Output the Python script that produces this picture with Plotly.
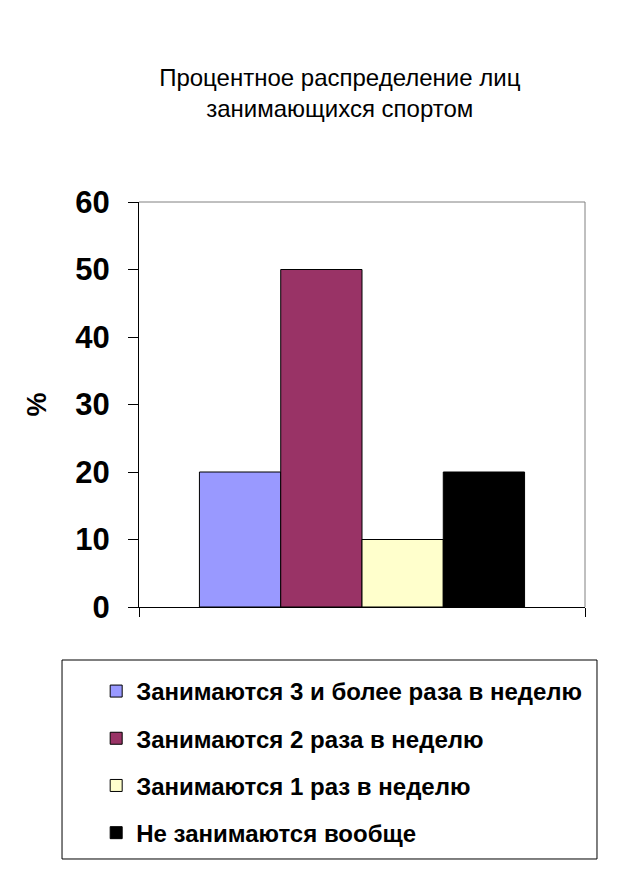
import plotly.graph_objects as go

categories = ['Занимаются 3 и более раза в неделю',
              'Занимаются 2 раза в неделю',
              'Занимаются 1 раз в неделю',
              'Не занимаются вообще']
values = [20, 50, 10, 20]
colors = ['#9999FF', '#993366', '#FFFFCC', '#000000']
y_ticks = [0, 10, 20, 30, 40, 50, 60]

fig = go.Figure()
for i, (name, val, col) in enumerate(zip(categories, values, colors)):
    fig.add_trace(go.Bar(
        x=[0], y=[val], name='<b>' + name + '</b>',
        legendgroup='g%d' % i,
        marker=dict(color=col, line=dict(color='black', width=1)),
    ))

# page has an 8px body margin, so margins are shifted by 8
fig.update_layout(
    width=626, height=884,
    margin=dict(l=131, r=49, t=194, b=285),
    paper_bgcolor='white', plot_bgcolor='white',
    font=dict(family='Arial, Liberation Sans, sans-serif', color='black'),
    title=dict(text='Процентное распределение лиц<br>занимающихся спортом',
               font=dict(size=24), x=0.530, xanchor='center',
               y=0.912, yanchor='middle', xref='container', yref='container'),
    barmode='group', bargap=0.271, bargroupgap=0,
    xaxis=dict(range=[-0.5, 0.5], tickvals=[-0.5, 0.5], showticklabels=False,
               ticks='outside', ticklen=9, tickcolor='black',
               showline=True, linecolor='black', linewidth=1,
               showgrid=False, zeroline=False, fixedrange=True),
    yaxis=dict(range=[0, 60], tickvals=y_ticks,
               ticktext=['<b>%d</b>' % v for v in y_ticks],
               ticks='outside', ticklen=10,
               tickcolor='black', showline=True, linecolor='black', linewidth=1,
               showgrid=False, zeroline=False,
               tickfont=dict(size=31),
               ticklabelstandoff=12,
               title=dict(text='<b>%</b>', font=dict(size=27), standoff=20)),
    legend=dict(x=-0.096, y=-0.153, xanchor='left', yanchor='top',
                font=dict(size=24), tracegroupgap=13,
                bgcolor='rgba(0,0,0,0)', traceorder='grouped'),
    shapes=[
        # grey frame of the plot area (top and right)
        dict(type='line', xref='paper', yref='paper', x0=0, x1=1, y0=1, y1=1,
             line=dict(color='#808080', width=1), layer='below'),
        dict(type='line', xref='paper', yref='paper', x0=1, x1=1, y0=0, y1=1,
             line=dict(color='#808080', width=1), layer='below'),
        # legend box
        dict(type='rect', xref='paper', yref='paper',
             x0=-0.1726, x1=1.0269, y0=-0.1309, y1=-0.6222,
             line=dict(color='black', width=1)),
    ],
)
fig.write_html('out.html')
